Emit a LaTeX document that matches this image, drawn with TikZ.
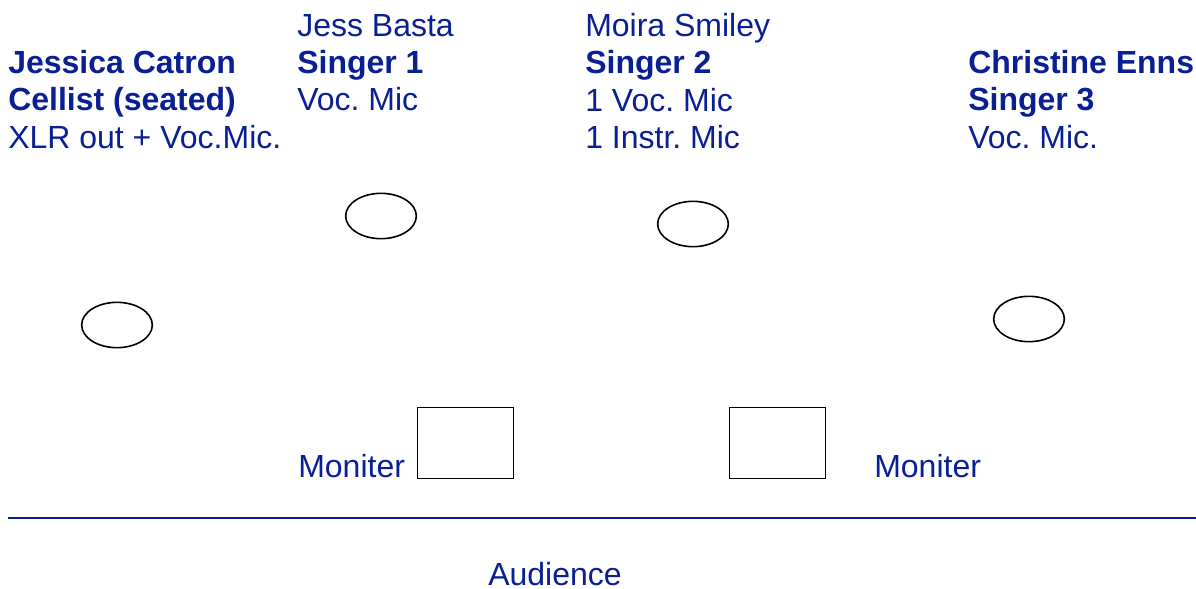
\documentclass[tikz,border=0pt]{standalone}
\usepackage{fontspec}
\setmainfont{Liberation Sans}
\usepackage{xcolor}
\usetikzlibrary{positioning, shapes.geometric}
\definecolor{stageblue}{HTML}{0B1F94}
\frenchspacing

\begin{document}
\begin{tikzpicture}[
        x=0.75pt, y=-0.75pt,
        label/.style={text=stageblue, inner sep=0pt, align=left,
                      font=\fontsize{24}{28}\selectfont},
        mic/.style={ellipse, draw=black, line width=1.2pt,
                    minimum width=53pt, minimum height=34pt, inner sep=0pt},
        monitor/.style={rectangle, draw=black, line width=1.2pt,
                        minimum width=72pt, minimum height=53.5pt, inner sep=0pt},
        edge/.style={draw=stageblue, line width=2pt}
      ]
        \useasboundingbox (0,0) rectangle (1196,589);

        % performers
        \node[label, anchor=north west] (cellist) at (8,50)
            {\textbf{Jessica Catron}\\\textbf{Cellist (seated)}\\XLR out + Voc.Mic.};
        \node[label, anchor=north west] (singerA) at (297,14)
            {Jess Basta\\\textbf{Singer 1}\\Voc. Mic};
        \node[label, anchor=north west] (singerB) at (585,13)
            {Moira Smiley\\\textbf{Singer 2}\\1 Voc. Mic\\1 Instr. Mic};
        \node[label, anchor=north west] (singerC) at (968,50)
            {\textbf{Christine Enns}\\\textbf{Singer 3}\\Voc. Mic.};

        % mic positions
        \node[mic] (cellistmic) at (117,325) {};
        \node[mic] (micA) at (381,216) {};
        \node[mic] (micB) at (693,224) {};
        \node[mic] (micC) at (1029,319) {};

        % monitors
        \node[monitor] (monA) at (465.5,443) {};
        \node[monitor] (monB) at (777.5,443) {};
        \node[label, anchor=base west] (monAtext) at (298,477) {Moniter};
        \node[label, anchor=base west] (monBtext) at (874,477) {Moniter};

        % stage edge
        \coordinate (edgeL) at (8,518);
        \coordinate (edgeR) at (1196,518);
        \draw[edge] (edgeL) -- (edgeR);

        \node[label, anchor=base west] (audience) at (488,585) {Audience};
      \end{tikzpicture}
\end{document}
